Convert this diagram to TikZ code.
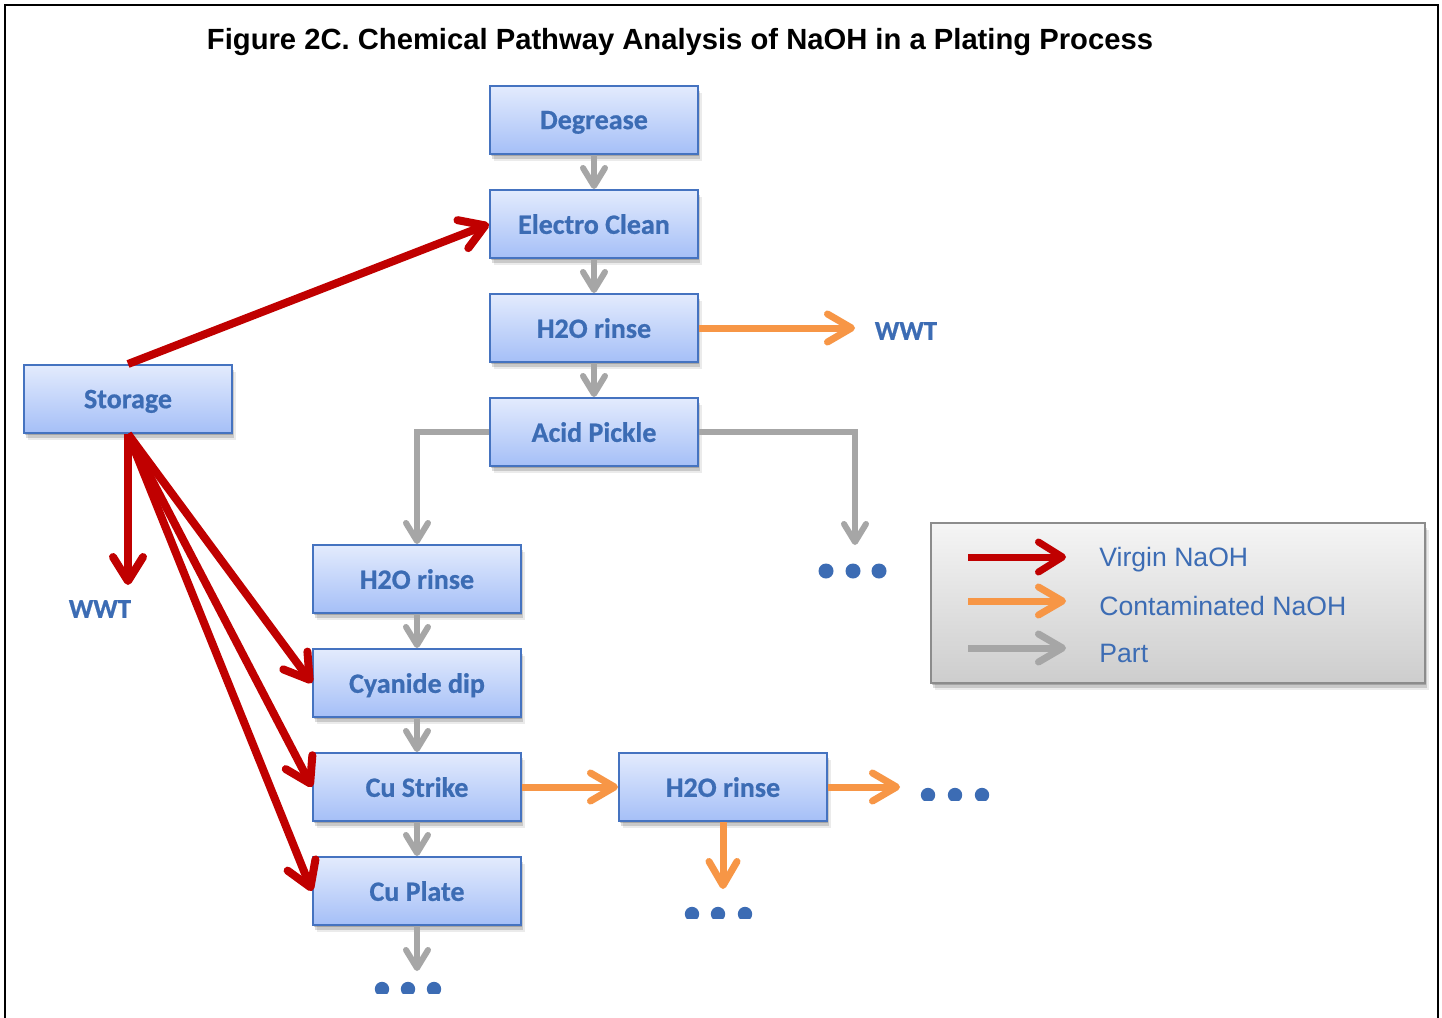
\documentclass[tikz,border=0pt]{standalone}
\usepackage{fontspec}
\setmainfont{Liberation Sans}
\newfontfamily\calib{Carlito}[BoldFeatures={FakeBold=0.7}]
\usetikzlibrary{arrows.meta,shadows,calc}
\definecolor{boxtop}{HTML}{E3EBFD}
\definecolor{boxbot}{HTML}{A5BFF7}
\definecolor{boxline}{HTML}{4573C0}
\definecolor{txtblue}{HTML}{3C6CB4}
\definecolor{redc}{HTML}{C00000}
\definecolor{orangec}{HTML}{F79646}
\definecolor{grayc}{HTML}{A6A6A6}
\definecolor{legtop}{HTML}{F5F5F5}
\definecolor{legbot}{HTML}{CDCDCD}
\definecolor{legline}{HTML}{8C8C8C}
\tikzset{
  softshadow/.style={
    drop shadow={shadow xshift=0.6pt, shadow yshift=-1.2pt, opacity=0.18, fill=black},
    drop shadow={shadow xshift=1.2pt, shadow yshift=-2.4pt, opacity=0.14, fill=black},
    drop shadow={shadow xshift=1.8pt, shadow yshift=-3.4pt, opacity=0.08, fill=black}},
  stepbox/.style={rectangle, minimum width=104pt, minimum height=34pt, inner sep=0pt,
    draw=boxline, line width=1pt, top color=boxtop, bottom color=boxbot,
    text=txtblue, font=\calib\bfseries\fontsize{14}{16}\selectfont,
    text depth=0pt, softshadow},
  lbl/.style={text=txtblue, font=\calib\bfseries\fontsize{13.5}{16}\selectfont, inner sep=0pt},
  partarrow/.style={draw=grayc, line width=3pt, -{Straight Barb[length=9pt,width=11pt,round]}},
  redarrow/.style={draw=redc, line width=4pt, -{Straight Barb[length=12pt,width=15pt,round]}},
  orarrow/.style={draw=orangec, line width=3.5pt, -{Straight Barb[length=12pt,width=14pt,round]}},
  legtext/.style={anchor=west, text=txtblue, font=\fontsize{13.3}{16}\selectfont, inner sep=0pt},
  dot/.style={fill=txtblue, draw=none}
}
\begin{document}
\begin{tikzpicture}[x=0.5pt,y=-0.5pt]
\clip (0,0) rectangle (1442,1018);
\fill[white] (0,0) rectangle (1442,1018);
% outer frame
\draw[line width=1.1pt, black] (5,1040) -- (5,5) -- (1438,5) -- (1438,1040);
% title
\node[font=\bfseries\fontsize{14.6}{17}\selectfont, inner sep=0pt] (title) at (680,42) {Figure 2C. Chemical Pathway Analysis of NaOH in a Plating Process};

% boxes
\node[stepbox] (deg) at (594,120) {Degrease};
\node[stepbox] (ec)  at (594,224) {Electro Clean};
\node[stepbox] (r1)  at (594,328) {H2O rinse};
\node[stepbox] (ap)  at (594,432) {Acid Pickle};
\node[stepbox] (st)  at (128,399) {Storage};
\node[stepbox] (r2)  at (417,579) {H2O rinse};
\node[stepbox] (cy)  at (417,683) {Cyanide dip};
\node[stepbox] (cs)  at (417,787) {Cu Strike};
\node[stepbox] (cp)  at (417,891) {Cu Plate};
\node[stepbox] (r3)  at (723,787) {H2O rinse};

% labels
\node[lbl] (wwt1) at (906,331) {WWT};
\node[lbl] (wwt2) at (100,609) {WWT};

% free-end coordinates
\coordinate (wwt1end) at (855,328);
\coordinate (wwt2end) at (128,585);
\coordinate (apend) at (855,545);
\coordinate (cpend) at (417,971);
\coordinate (r3east) at (900,787);
\coordinate (r3south) at (723,889);

% part arrows
\draw[partarrow] (deg.south) -- (ec.north);
\draw[partarrow] (ec.south) -- (r1.north);
\draw[partarrow] (r1.south) -- (ap.north);
\draw[partarrow] (r2.south) -- (cy.north);
\draw[partarrow] (cy.south) -- (cs.north);
\draw[partarrow] (cs.south) -- (cp.north);
\draw[partarrow] (cp.south) -- (cpend);
\draw[partarrow, line join=miter] (ap.west) -| (r2.north);
\draw[partarrow, line join=miter] (ap.east) -| (apend);

% contaminated arrows
\draw[orarrow] (r1.east) -- (wwt1end);
\draw[orarrow] (cs.east) -- (r3.west);
\draw[orarrow] (r3.east) -- (r3east);
\draw[orarrow] (r3.south) -- (r3south);

% virgin arrows
\draw[redarrow] (st.north) -- (ec.west);
\draw[redarrow] (st.south) -- (wwt2end);
\draw[redarrow] (st.south) -- (cy.west);
\draw[redarrow] (st.south) -- (cs.west);
\draw[redarrow] (st.south) -- (cp.west);

% dots
\foreach \x in {826,853,879} \fill[dot] (\x,571) circle (7.5);
\begin{scope}
\clip (900,700) rectangle (1000,800);
\foreach \x in {928,955,982} \fill[dot] (\x,795) circle (7.2);
\end{scope}
\begin{scope}
\clip (670,880) rectangle (770,918);
\foreach \x in {692,718,745} \fill[dot] (\x,914) circle (7.2);
\end{scope}
\begin{scope}
\clip (360,960) rectangle (460,993);
\foreach \x in {382,408,434} \fill[dot] (\x,989) circle (7.2);
\end{scope}

% legend
\node[rectangle, minimum width=247pt, minimum height=80pt, inner sep=0pt,
  draw=legline, line width=1.2pt, top color=legtop, bottom color=legbot,
  softshadow] (leg) at (1178,603) {};
\coordinate (la1) at (968,557); \coordinate (lb1) at (1066,557);
\coordinate (la2) at (968,601); \coordinate (lb2) at (1066,601);
\coordinate (la3) at (968,648); \coordinate (lb3) at (1066,648);
\draw[redarrow, line width=3.5pt] (la1) -- (lb1);
\draw[orarrow] (la2) -- (lb2);
\draw[partarrow, line width=3.5pt, -{Straight Barb[length=12pt,width=14pt,round]}] (la3) -- (lb3);
\node[legtext] (lt1) at (1099,560) {Virgin NaOH};
\node[legtext] (lt2) at (1099,606) {Contaminated NaOH};
\node[legtext] (lt3) at (1099,653) {Part};
\end{tikzpicture}
\end{document}
